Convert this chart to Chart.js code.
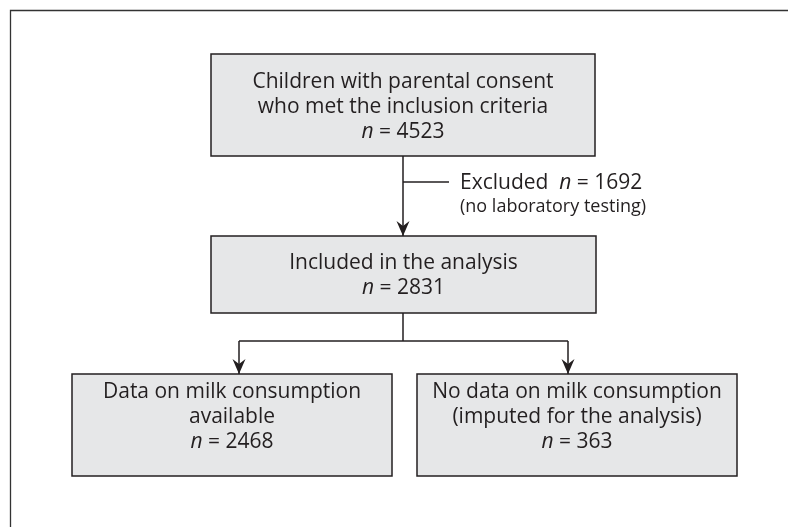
<!DOCTYPE html>
<html><head><meta charset="utf-8">
<script src="https://cdn.jsdelivr.net/npm/chart.js@4.4.1/dist/chart.umd.min.js"></script>
<style>html,body{margin:0;padding:0;background:#fff}#wrap{width:788px;height:527px}</style>
</head><body><div id="wrap"><canvas id="c" width="788" height="527"></canvas></div>
<script>
// ---- data ----
const stageLines = [
  ['Children with parental consent', 'who met the inclusion criteria'],
  ['Included in the analysis'],
  ['Data on milk consumption', 'available'],
  ['No data on milk consumption', '(imputed for the analysis)']
];
const stageCounts = [4523, 2831, 2468, 363];
const excludedLabel = 'Excluded';
const excludedCount = 1692;
const excludedReason = '(no laboratory testing)';

// ---- layout (flowchart coordinate space) ----
const W = 788, H = 527;
const boxes = [
  {x0: 211, x1: 595, y0: 54,  y1: 156, firstLine: 82},
  {x0: 211, x1: 596, y0: 236, y1: 313, firstLine: 263},
  {x0: 72,  x1: 392, y0: 374, y1: 476, firstLine: 392},
  {x0: 417, x1: 737, y0: 374, y1: 476, firstLine: 392}
];
const lineGap = 25;
const connectors = [
  [[403,156],[403,236]],
  [[403,182],[449,182]],
  [[403,313],[403,341]],
  [[239,341],[568,341]],
  [[239,341],[239,374]],
  [[568,341],[568,374]]
];
const arrowTips = [[403,236],[239,374],[568,374]];
const excludedPos = {x: 460, y1: 183, y2: 207};

const INK = '#231f20', FILL = '#e6e7e8';
const FONT = '"Open Sans", "Noto Sans", sans-serif';
const MAIN = 21, SMALL = 18;

function drawRuns(ctx, runs, x, y, align) {
  let total = 0;
  runs.forEach(r => { ctx.font = r.font; r.w = ctx.measureText(r.t).width; total += r.w; });
  let cx = align === 'center' ? x - total / 2 : x;
  ctx.textAlign = 'left';
  ctx.textBaseline = 'middle';
  runs.forEach(r => { ctx.font = r.font; ctx.fillText(r.t, cx, y); cx += r.w; });
}

const flowPlugin = {
  id: 'flow',
  beforeDatasetsDraw(chart) {
    const ctx = chart.ctx, xs = chart.scales.x, ys = chart.scales.y;
    const px = v => xs.getPixelForValue(v), py = v => ys.getPixelForValue(v);
    ctx.save();
    ctx.strokeStyle = '#333';
    ctx.lineWidth = 1.3;
    ctx.beginPath();
    ctx.moveTo(px(W), py(10.5)); ctx.lineTo(px(10.5), py(10.5)); ctx.lineTo(px(10.5), py(H));
    ctx.stroke();
    boxes.forEach(b => {
      const x = px(b.x0), y = py(b.y0), w = px(b.x1) - x, h = py(b.y1) - y;
      ctx.fillStyle = FILL;
      ctx.fillRect(x, y, w, h);
      ctx.lineWidth = 1.5;
      ctx.strokeStyle = INK;
      ctx.strokeRect(x, y, w, h);
    });
    ctx.restore();
  },
  afterDatasetsDraw(chart) {
    const ctx = chart.ctx, xs = chart.scales.x, ys = chart.scales.y;
    const px = v => xs.getPixelForValue(v), py = v => ys.getPixelForValue(v);
    ctx.save();
    ctx.fillStyle = INK;
    arrowTips.forEach(([tx, ty]) => {
      const x = px(tx), y = py(ty);
      ctx.beginPath();
      ctx.moveTo(x, y);
      ctx.lineTo(x - 6.5, y - 15);
      ctx.lineTo(x, y - 10);
      ctx.lineTo(x + 6.5, y - 15);
      ctx.closePath();
      ctx.fill();
    });
    const reg = MAIN + 'px ' + FONT, ital = 'italic ' + MAIN + 'px ' + FONT;
    ctx.fillStyle = INK;
    boxes.forEach((b, i) => {
      const cx = px((b.x0 + b.x1) / 2);
      const lines = stageLines[i];
      lines.forEach((t, k) => {
        drawRuns(ctx, [{t, font: reg}], cx, py(b.firstLine + k * lineGap), 'center');
      });
      drawRuns(ctx, [{t: 'n', font: ital}, {t: ' = ' + stageCounts[i], font: reg}],
        cx, py(b.firstLine + lines.length * lineGap), 'center');
    });
    drawRuns(ctx, [{t: excludedLabel + '  ', font: reg}, {t: 'n', font: ital}, {t: ' = ' + excludedCount, font: reg}],
      px(excludedPos.x), py(excludedPos.y1), 'left');
    drawRuns(ctx, [{t: excludedReason, font: SMALL + 'px ' + FONT}], px(excludedPos.x), py(excludedPos.y2), 'left');
    ctx.restore();
  }
};

new Chart(document.getElementById('c'), {
  type: 'scatter',
  data: {
    datasets: connectors.map(seg => ({
      data: seg.map(([x, y]) => ({x, y})),
      showLine: true,
      borderColor: INK,
      borderWidth: 1.5,
      pointRadius: 0,
      pointHoverRadius: 0,
      fill: false,
      tension: 0
    }))
  },
  options: {
    responsive: false,
    animation: false,
    events: [],
    layout: {padding: 0},
    plugins: {legend: {display: false}, tooltip: {enabled: false}},
    scales: {
      x: {type: 'linear', min: 0, max: W, display: false},
      y: {type: 'linear', min: 0, max: H, reverse: true, display: false}
    }
  },
  plugins: [flowPlugin]
});
</script>
</body></html>
